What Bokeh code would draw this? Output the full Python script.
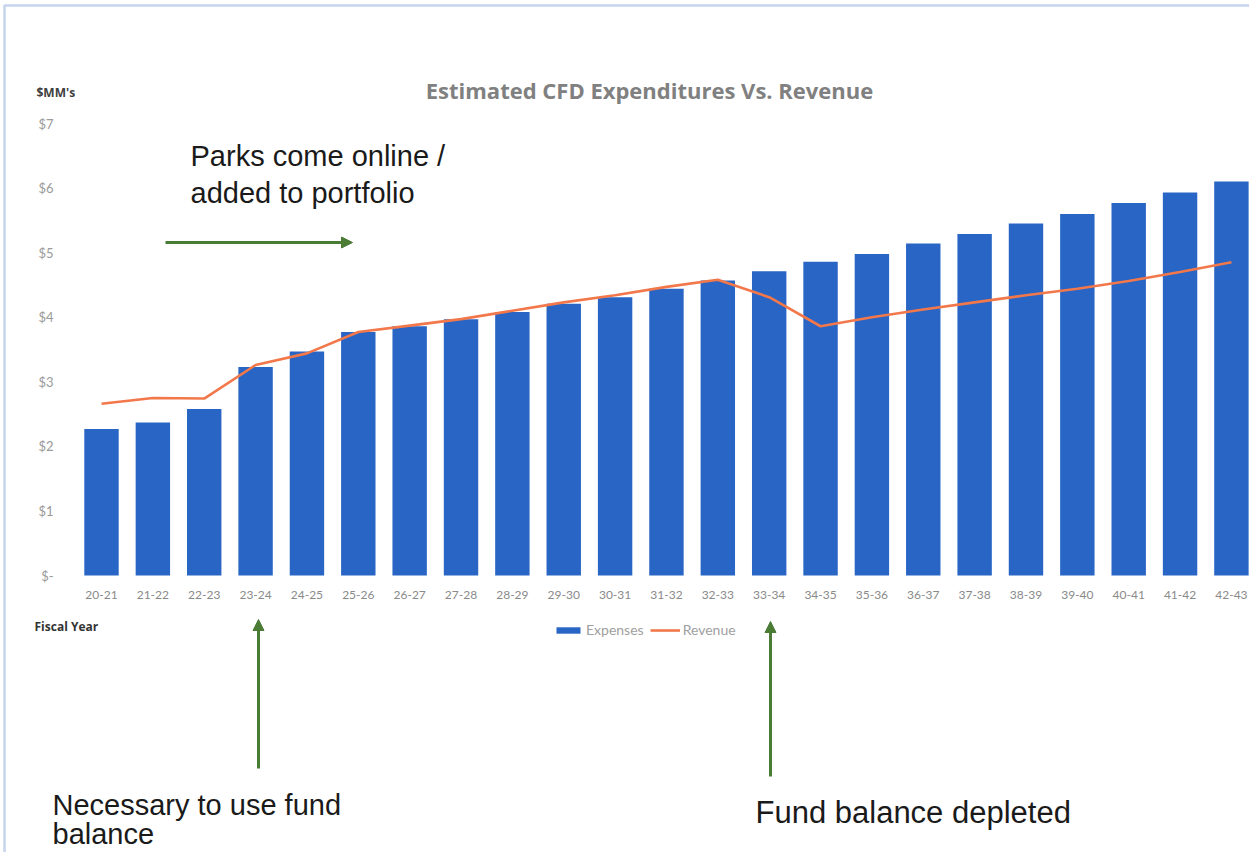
from bokeh.plotting import figure
from bokeh.models import (Range1d, FixedTicker, Label, Arrow, NormalHead, Legend,
                          LegendItem, BoxAnnotation, ColumnDataSource)
from bokeh.embed import file_html
from bokeh.resources import INLINE

# ---- data ----
years = ["20-21", "21-22", "22-23", "23-24", "24-25", "25-26", "26-27", "27-28",
         "28-29", "29-30", "30-31", "31-32", "32-33", "33-34", "34-35", "35-36",
         "36-37", "37-38", "38-39", "39-40", "40-41", "41-42", "42-43"]
expenses = [2.27, 2.37, 2.58, 3.23, 3.47, 3.77, 3.86, 3.97, 4.08, 4.21, 4.31, 4.44,
            4.57, 4.71, 4.86, 4.98, 5.14, 5.29, 5.45, 5.60, 5.77, 5.93, 6.10]
revenue = [2.66, 2.75, 2.74, 3.26, 3.44, 3.77, 3.87, 3.97, 4.10, 4.23, 4.34, 4.47,
           4.58, 4.31, 3.86, 4.00, 4.12, 4.23, 4.34, 4.44, 4.56, 4.70, 4.85]
y_ticks = [0, 1, 2, 3, 4, 5, 6, 7]
y_tick_labels = ["$-", "$1", "$2", "$3", "$4", "$5", "$6", "$7"]

idx = list(range(len(years)))
src = ColumnDataSource(dict(x=idx, year=years, expenses=expenses, revenue=revenue))

BLUE = "#2865C4"
ORANGE = "#F2784B"
GREEN = "#4A7C35"

W, H = 1249, 852
X0, XS = 101.0, 51.36      # pixel of first category, pixels per category
Y0, YS = 575.0, 452.0 / 7  # pixel of value 0, pixels per $1M


def dx(px):
    return (px - X0) / XS


def dy(py):
    return (Y0 - py) / YS


p = figure(width=W, height=H, output_backend="svg", toolbar_location=None,
           x_range=Range1d(dx(0), dx(W)), y_range=Range1d(dy(H), dy(0)),
           min_border=0, min_border_left=0, min_border_right=0,
           min_border_top=0, min_border_bottom=0)
p.outline_line_color = None
p.grid.visible = False
p.background_fill_color = "white"
p.border_fill_color = "white"

bars = p.vbar(x="x", top="expenses", width=0.67, source=src, fill_color=BLUE,
              line_color=None)
line = p.line(x="x", y="revenue", source=src, line_color=ORANGE, line_width=2.6)

# axes (drawn at fixed positions inside the full-canvas frame)
xa = p.xaxis[0]
xa.fixed_location = 0
xa.ticker = FixedTicker(ticks=idx)
xa.major_label_overrides = {i: y for i, y in enumerate(years)}
xa.axis_line_color = None
xa.major_tick_line_color = None
xa.minor_tick_line_color = None
xa.major_tick_out = 0
xa.major_tick_in = 0
xa.major_label_standoff = 15
xa.major_label_text_font = "Lato"
xa.major_label_text_font_size = "12px"
xa.major_label_text_color = "#8a8a8a"

ya = p.yaxis[0]
ya.fixed_location = dx(68)
ya.ticker = FixedTicker(ticks=y_ticks)
ya.major_label_overrides = {t: l for t, l in zip(y_ticks, y_tick_labels)}
ya.axis_line_color = None
ya.major_tick_line_color = None
ya.minor_tick_line_color = None
ya.major_tick_out = 0
ya.major_tick_in = 0
ya.major_label_standoff = 15
ya.major_label_text_font = "Lato"
ya.major_label_text_font_size = "13px"
ya.major_label_text_color = "#9a9a9a"


def add_label(x, y, text, size, color="#1a1a1a", font="Liberation Sans",
              style="normal", align="left"):
    p.add_layout(Label(x=dx(x), y=dy(y), text=text, text_font=font,
                       text_font_size=size, text_color=color,
                       text_font_style=style, text_align=align,
                       text_baseline="middle"))


add_label(36, 92, "$MM's", "12px", color="#404040", font="Open Sans", style="bold")
add_label(649, 89, "Estimated CFD Expenditures Vs. Revenue", "22px",
          color="#808080", font="Open Sans", style="bold", align="center")
add_label(34, 626, "Fiscal Year", "12px", color="#333333", font="Open Sans", style="bold")
add_label(190, 155, "Parks come online /", "29px")
add_label(190, 192, "added to portfolio", "29px")
add_label(52, 804, "Necessary to use fund", "29px")
add_label(52, 833, "balance", "29px")
add_label(755, 812, "Fund balance depleted", "31px")

# arrows
for (x0, y0, x1, y1) in [(165, 242, 352, 242), (258, 768, 258, 619), (770, 776, 770, 621)]:
    p.add_layout(Arrow(end=NormalHead(size=11, fill_color=GREEN, line_color=GREEN),
                       x_start=dx(x0), y_start=dy(y0), x_end=dx(x1), y_end=dy(y1),
                       line_color=GREEN, line_width=3))

# legend
legend = Legend(items=[LegendItem(label="Expenses", renderers=[bars]),
                       LegendItem(label="Revenue", renderers=[line])],
                orientation="horizontal", location=(553, H - 638),
                border_line_color=None, background_fill_alpha=0,
                label_text_font="Lato", label_text_font_size="14px",
                label_text_color="#a0a0a0", glyph_width=30, glyph_height=8,
                padding=0, margin=0, spacing=6, label_standoff=3)
p.add_layout(legend)

# slide border (top and left edges visible)
p.add_layout(BoxAnnotation(left=4, right=5000, top=H - 5, bottom=-5000,
                           left_units="screen", right_units="screen",
                           top_units="screen", bottom_units="screen",
                           fill_alpha=0, line_color="#4472C4", line_width=2.5))

open("out.html", "w").write(file_html(p, INLINE))
